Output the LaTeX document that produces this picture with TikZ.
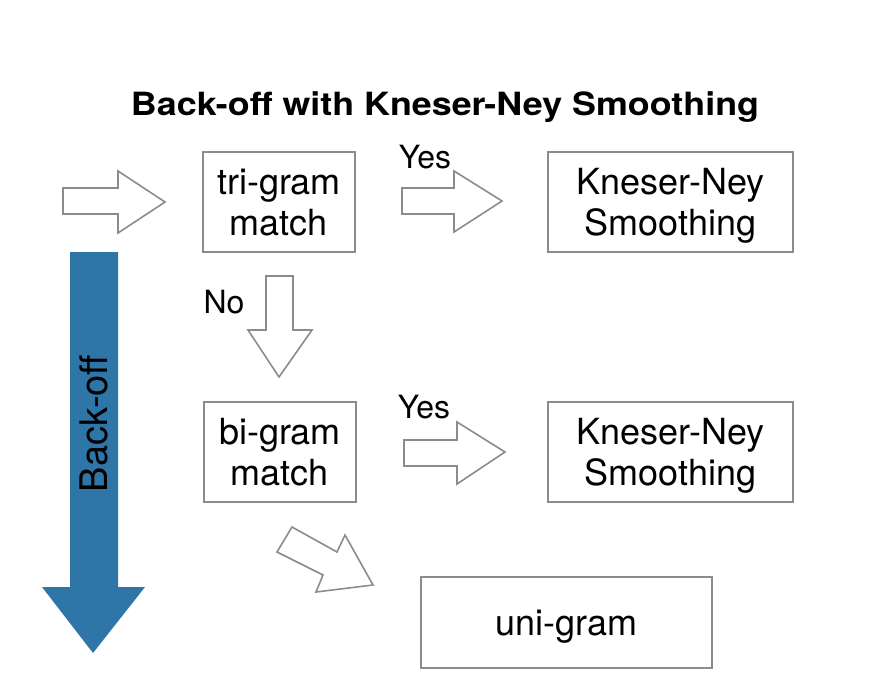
\documentclass[tikz,border=0pt]{standalone}
\usepackage{fontspec}
\setmainfont{TeX Gyre Heros}
\newfontfamily\titlefont[FakeStretch=1.12]{TeX Gyre Heros}
\newcommand{\topst}{\rule{0pt}{34pt}}
\newcommand{\botst}{\rule[-9pt]{0pt}{0pt}}
\begin{document}
\begin{tikzpicture}[x=1pt,y=-1pt,
  box/.style={draw=boxgray,line width=1.6pt,inner sep=0pt,align=center,font=\fontsize{36}{41}\selectfont},
  blockarrow/.style={draw=boxgray,line width=1.6pt,fill=white,line join=miter},
  lbl/.style={font=\fontsize{32}{36}\selectfont,inner sep=0pt}]
\definecolor{boxgray}{RGB}{140,140,140}
\definecolor{backblue}{RGB}{46,117,168}
\useasboundingbox (0,0) rectangle (887,697);
\fill[white] (0,0) rectangle (887,697);
% title
\node[font=\titlefont\fontsize{32}{40}\selectfont\bfseries,anchor=base] (title) at (445,115) {Back-off with Kneser-Ney Smoothing};
% boxes
\node[box,minimum width=152pt,minimum height=100pt] (tri) at (279,202) {\topst tri-gram\\match\botst};
\node[box,minimum width=245pt,minimum height=100pt] (kn1) at (670.5,202) {\topst Kneser-Ney\\Smoothing\botst};
\node[box,minimum width=152pt,minimum height=100pt] (bi) at (280,452) {\topst bi-gram\\match\botst};
\node[box,minimum width=245pt,minimum height=100pt] (kn2) at (670.5,452) {\topst Kneser-Ney\\Smoothing\botst};
\node[box,minimum width=291pt,minimum height=91pt] (uni) at (566.5,622.5) {\topst uni-gram\botst};
% block arrows
\draw[blockarrow] (63,188) -- (118,188) -- (118,171) -- (165,202) -- (118,233) -- (118,214) -- (63,214) -- cycle;
\draw[blockarrow] (402,188) -- (454,188) -- (454,171) -- (502,201) -- (454,232) -- (454,214) -- (402,214) -- cycle;
\draw[blockarrow] (266,276) -- (293,276) -- (293,330) -- (312,330) -- (279,377) -- (248,330) -- (266,330) -- cycle;
\draw[blockarrow] (404,440) -- (457,440) -- (457,422) -- (505,452) -- (457,484) -- (457,466) -- (404,466) -- cycle;
\draw[blockarrow] (292,527) -- (337,552) -- (345,535) -- (373,585) -- (316,592) -- (323,575) -- (277,552) -- cycle;
% labels
\node[lbl,anchor=base] (yes1) at (425,168) {Yes};
\node[lbl,anchor=base] (no) at (224,313) {No};
\node[lbl,anchor=base] (yes2) at (424,418) {Yes};
% back-off arrow
\fill[backblue] (70,252) -- (118,252) -- (118,587) -- (145,587) -- (93,653) -- (42,587) -- (70,587) -- cycle;
\node[font=\fontsize{38}{44}\selectfont,rotate=90,inner sep=0pt] (backoff) at (93.5,423.5) {Back-off};
\end{tikzpicture}
\end{document}
